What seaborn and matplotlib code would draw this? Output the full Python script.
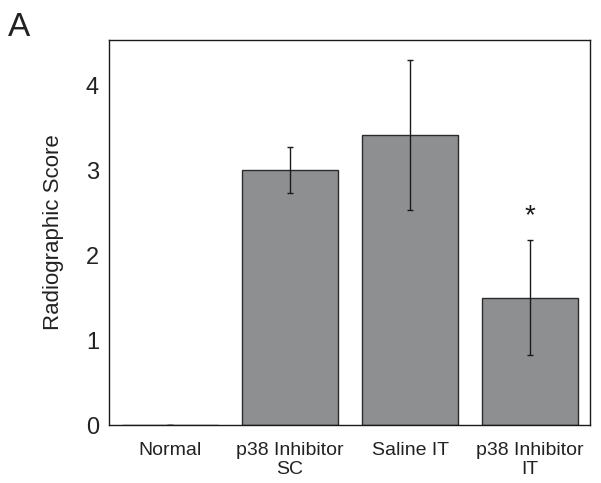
import numpy as np
import pandas as pd
import matplotlib
matplotlib.use("Agg")
import matplotlib.pyplot as plt
import seaborn as sns

##data
groups = ["Normal", "p38 Inhibitor\nSC", "Saline IT", "p38 Inhibitor\nIT"]
scores = [0.0, 3.0, 3.41, 1.5]
errors = [0.0, 0.27, 0.88, 0.68]
star_group = 3

sns.set_style("white")
plt.rcParams['font.family'] = ['Liberation Sans', 'DejaVu Sans']

df = pd.DataFrame({"group": groups, "score": scores, "err": errors})

fig = plt.figure(figsize=(6.01, 4.83), dpi=100)
ax = fig.add_axes([0.181, 0.12, 0.801, 0.797])

sns.barplot(data=df, x="group", y="score", color="#8e8f91", saturation=1,
            edgecolor="#2b2b2b", linewidth=1.0, width=0.8, errorbar=None, ax=ax)

xpos = np.arange(len(groups))
ax.errorbar(xpos, df["score"], yerr=df["err"], fmt="none", ecolor="#1a1a1a",
            elinewidth=1.0, capsize=2.5, capthick=1.0)

# significance mark
ax.text(star_group, scores[star_group] + errors[star_group] + 0.12, "*",
        ha="center", va="bottom", fontsize=20, color="#1a1a1a")

ax.set_xlim(-0.51, 3.5)
ax.set_ylim(0, 4.53)
ax.set_yticks([0, 1, 2, 3, 4])
ax.set_xlabel("")
ax.set_ylabel("Radiographic Score", fontsize=16, labelpad=16, color="#222222")
ax.tick_params(axis="y", labelsize=17, length=0, pad=7, labelcolor="#222222")
ax.tick_params(axis="x", labelsize=14, length=0, pad=12, labelcolor="#222222")
for s in ax.spines.values():
    s.set_color("#1a1a1a")
    s.set_linewidth(1.0)

fig.text(0.013, 0.975, "A", fontsize=24, va="top", ha="left", color="#222222")

plt.savefig("out.png", dpi=100)
